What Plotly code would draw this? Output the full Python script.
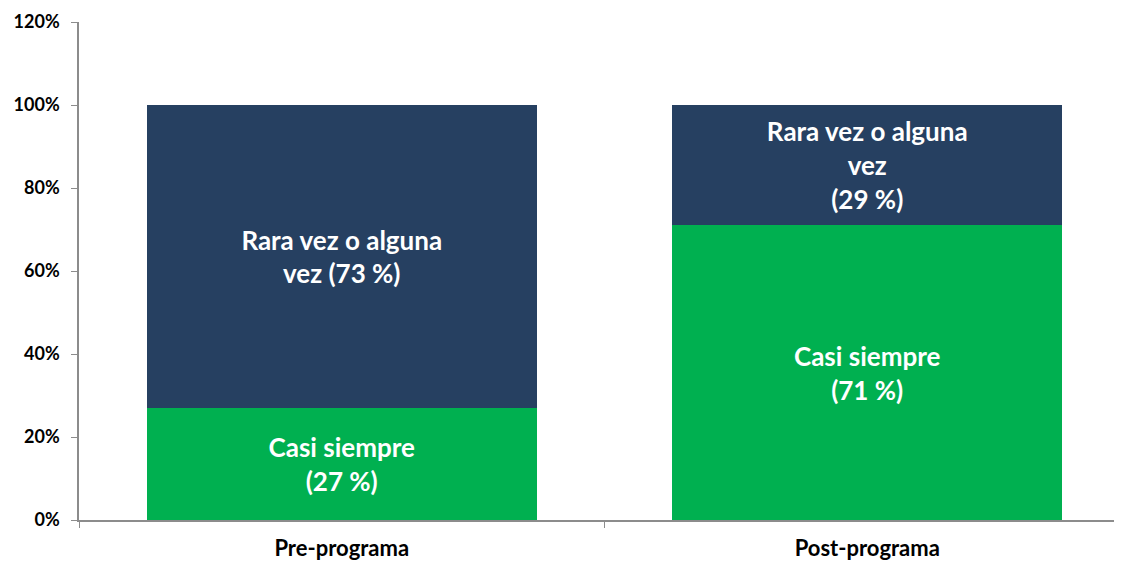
import plotly.graph_objects as go

categories = ["Pre-programa", "Post-programa"]
casi_siempre = [27, 71]
rara_vez = [73, 29]
casi_labels = ["Casi siempre<br>(27 %)", "Casi siempre<br>(71 %)"]
rara_labels = ["Rara vez o alguna<br>vez (73 %)", "Rara vez o alguna<br>vez<br>(29 %)"]
y_ticks = [0, 20, 40, 60, 80, 100, 120]

FONT = "Lato"
GREEN = "#00B050"
NAVY = "#264061"
AXIS = "#8C8C8C"

fig = go.Figure()
fig.add_trace(go.Bar(
    x=categories, y=casi_siempre, name="Casi siempre",
    marker=dict(color=GREEN, line=dict(width=0)),
    text=casi_labels, textposition="inside", insidetextanchor="middle",
    textangle=0,
    textfont=dict(family=FONT, size=26, color="white", weight="bold"),
    width=0.742, hoverinfo="skip",
))
fig.add_trace(go.Bar(
    x=categories, y=rara_vez, name="Rara vez o alguna vez",
    marker=dict(color=NAVY, line=dict(width=0)),
    text=rara_labels, textposition="inside", insidetextanchor="middle",
    textangle=0,
    textfont=dict(family=FONT, size=26, color="white", weight="bold"),
    width=0.742, hoverinfo="skip",
))

fig.update_layout(
    barmode="stack",
    width=1114, height=556,
    margin=dict(l=71, r=0, t=14, b=44),
    paper_bgcolor="white", plot_bgcolor="white",
    showlegend=False,
    uniformtext=dict(minsize=26, mode="show"),
    xaxis=dict(
        type="category",
        range=[-0.5, 1.4848],
        automargin=False,
        showline=True, linecolor=AXIS, linewidth=1.5,
        ticks="outside", tickson="boundaries", ticklen=6, tickcolor=AXIS,
        tickfont=dict(family=FONT, size=22, color="black", weight="bold"),
        ticklabelstandoff=8,
        showgrid=False, zeroline=False,
    ),
    yaxis=dict(
        range=[0, 120],
        automargin=False,
        tickvals=y_ticks,
        ticktext=[f"{v}%" for v in y_ticks],
        showline=True, linecolor=AXIS, linewidth=1.5,
        ticks="outside", ticklen=6, tickcolor=AXIS,
        tickfont=dict(family=FONT, size=18, color="black", weight="bold"),
        ticklabelstandoff=8,
        showgrid=False, zeroline=False,
    ),
)

fig.write_html("out.html")
